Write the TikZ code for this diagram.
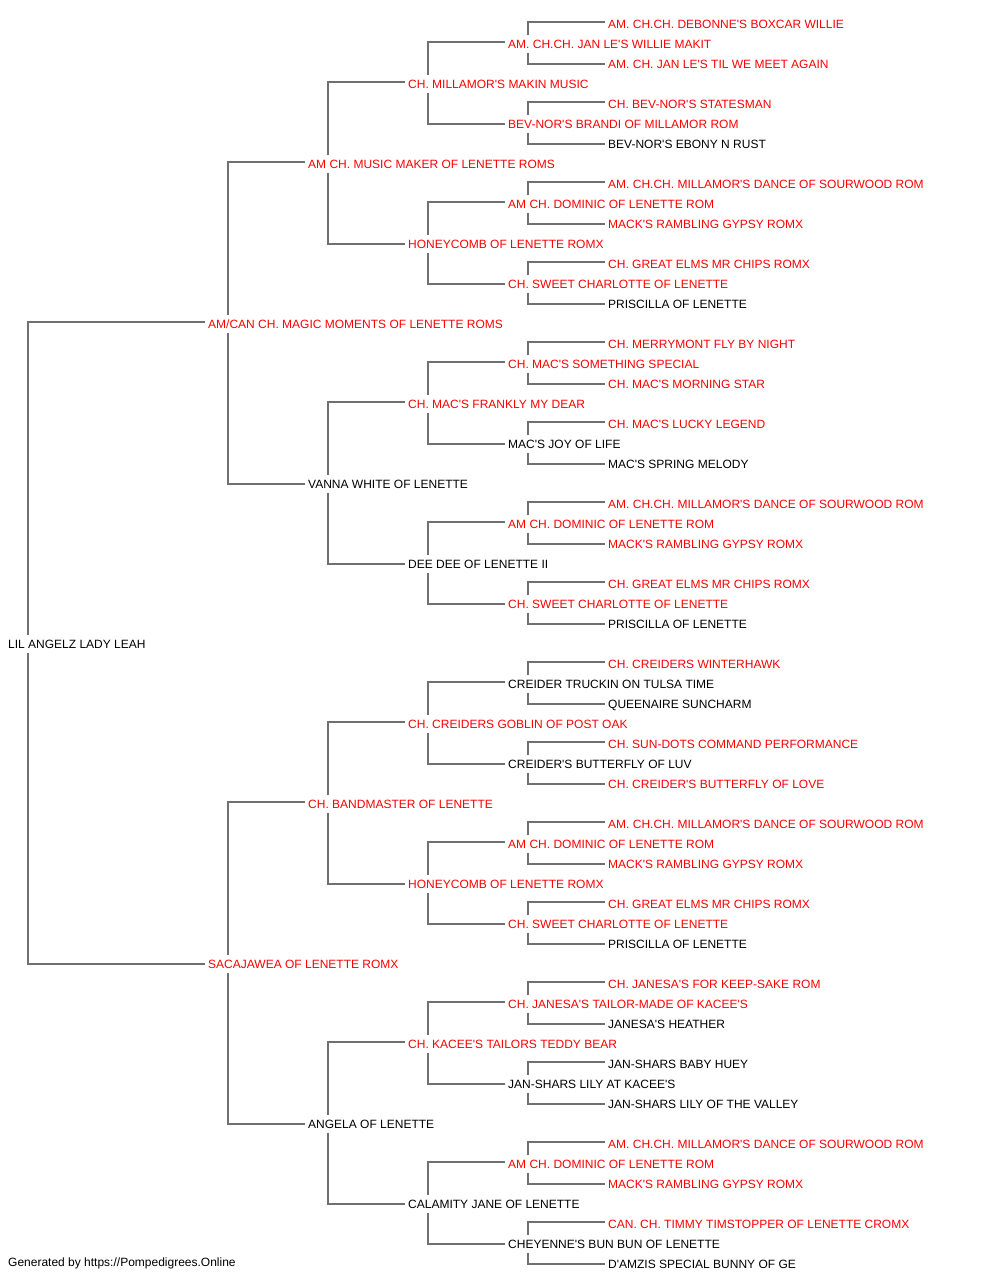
\documentclass[tikz,border=0pt]{standalone}
\usepackage{fontspec}
\setmainfont{Liberation Sans}[Ligatures=TeXOff]
\pgfdeclarelayer{bg}
\pgfsetlayers{bg,main}
\definecolor{linegray}{HTML}{707070}
\definecolor{pedred}{HTML}{FF0000}
\tikzset{
  nm/.style={anchor=west, fill=white, inner xsep=3pt, inner ysep=3pt,
    text height=10.5pt, text depth=1.9pt, font=\fontsize{12}{14}\selectfont},
  rd/.style={nm, text=pedred},
  bk/.style={nm, text=black},
  conn/.style={draw=linegray, line width=1.5pt}
}
\newcommand\pedlink[3]{\draw[conn] ([yshift=2pt]#2.west) -| ([xshift=23pt]#1.west) |- (#3.west);}
\begin{document}
\begin{tikzpicture}[x=1pt,y=-1pt]
\useasboundingbox (0,0) rectangle (1000,1280);
% generation 0
\node[bk] (r) at (5,644) {LIL ANGELZ LADY LEAH};
% generation 1
\node[rd] (s) at (205,324) {AM/CAN CH. MAGIC MOMENTS OF LENETTE ROMS};
\node[rd] (d) at (205,964) {SACAJAWEA OF LENETTE ROMX};
% generation 2
\node[rd] (ss) at (305,164) {AM CH. MUSIC MAKER OF LENETTE ROMS};
\node[bk] (sd) at (305,484) {VANNA WHITE OF LENETTE};
\node[rd] (ds) at (305,804) {CH. BANDMASTER OF LENETTE};
\node[bk] (dd) at (305,1124) {ANGELA OF LENETTE};
% generation 3
\node[rd] (sss) at (405,84) {CH. MILLAMOR'S MAKIN MUSIC};
\node[rd] (ssd) at (405,244) {HONEYCOMB OF LENETTE ROMX};
\node[rd] (sds) at (405,404) {CH. MAC'S FRANKLY MY DEAR};
\node[bk] (sdd) at (405,564) {DEE DEE OF LENETTE II};
\node[rd] (dss) at (405,724) {CH. CREIDERS GOBLIN OF POST OAK};
\node[rd] (dsd) at (405,884) {HONEYCOMB OF LENETTE ROMX};
\node[rd] (dds) at (405,1044) {CH. KACEE'S TAILORS TEDDY BEAR};
\node[bk] (ddd) at (405,1204) {CALAMITY JANE OF LENETTE};
% generation 4
\node[rd] (ssss) at (505,44) {AM. CH.CH. JAN LE'S WILLIE MAKIT};
\node[rd] (sssd) at (505,124) {BEV-NOR'S BRANDI OF MILLAMOR ROM};
\node[rd] (ssds) at (505,204) {AM CH. DOMINIC OF LENETTE ROM};
\node[rd] (ssdd) at (505,284) {CH. SWEET CHARLOTTE OF LENETTE};
\node[rd] (sdss) at (505,364) {CH. MAC'S SOMETHING SPECIAL};
\node[bk] (sdsd) at (505,444) {MAC'S JOY OF LIFE};
\node[rd] (sdds) at (505,524) {AM CH. DOMINIC OF LENETTE ROM};
\node[rd] (sddd) at (505,604) {CH. SWEET CHARLOTTE OF LENETTE};
\node[bk] (dsss) at (505,684) {CREIDER TRUCKIN ON TULSA TIME};
\node[bk] (dssd) at (505,764) {CREIDER'S BUTTERFLY OF LUV};
\node[rd] (dsds) at (505,844) {AM CH. DOMINIC OF LENETTE ROM};
\node[rd] (dsdd) at (505,924) {CH. SWEET CHARLOTTE OF LENETTE};
\node[rd] (ddss) at (505,1004) {CH. JANESA'S TAILOR-MADE OF KACEE'S};
\node[bk] (ddsd) at (505,1084) {JAN-SHARS LILY AT KACEE'S};
\node[rd] (ddds) at (505,1164) {AM CH. DOMINIC OF LENETTE ROM};
\node[bk] (dddd) at (505,1244) {CHEYENNE'S BUN BUN OF LENETTE};
% generation 5
\node[rd] (sssss) at (605,24) {AM. CH.CH. DEBONNE'S BOXCAR WILLIE};
\node[rd] (ssssd) at (605,64) {AM. CH. JAN LE'S TIL WE MEET AGAIN};
\node[rd] (sssds) at (605,104) {CH. BEV-NOR'S STATESMAN};
\node[bk] (sssdd) at (605,144) {BEV-NOR'S EBONY N RUST};
\node[rd] (ssdss) at (605,184) {AM. CH.CH. MILLAMOR'S DANCE OF SOURWOOD ROM};
\node[rd] (ssdsd) at (605,224) {MACK'S RAMBLING GYPSY ROMX};
\node[rd] (ssdds) at (605,264) {CH. GREAT ELMS MR CHIPS ROMX};
\node[bk] (ssddd) at (605,304) {PRISCILLA OF LENETTE};
\node[rd] (sdsss) at (605,344) {CH. MERRYMONT FLY BY NIGHT};
\node[rd] (sdssd) at (605,384) {CH. MAC'S MORNING STAR};
\node[rd] (sdsds) at (605,424) {CH. MAC'S LUCKY LEGEND};
\node[bk] (sdsdd) at (605,464) {MAC'S SPRING MELODY};
\node[rd] (sddss) at (605,504) {AM. CH.CH. MILLAMOR'S DANCE OF SOURWOOD ROM};
\node[rd] (sddsd) at (605,544) {MACK'S RAMBLING GYPSY ROMX};
\node[rd] (sddds) at (605,584) {CH. GREAT ELMS MR CHIPS ROMX};
\node[bk] (sdddd) at (605,624) {PRISCILLA OF LENETTE};
\node[rd] (dssss) at (605,664) {CH. CREIDERS WINTERHAWK};
\node[bk] (dsssd) at (605,704) {QUEENAIRE SUNCHARM};
\node[rd] (dssds) at (605,744) {CH. SUN-DOTS COMMAND PERFORMANCE};
\node[rd] (dssdd) at (605,784) {CH. CREIDER'S BUTTERFLY OF LOVE};
\node[rd] (dsdss) at (605,824) {AM. CH.CH. MILLAMOR'S DANCE OF SOURWOOD ROM};
\node[rd] (dsdsd) at (605,864) {MACK'S RAMBLING GYPSY ROMX};
\node[rd] (dsdds) at (605,904) {CH. GREAT ELMS MR CHIPS ROMX};
\node[bk] (dsddd) at (605,944) {PRISCILLA OF LENETTE};
\node[rd] (ddsss) at (605,984) {CH. JANESA'S FOR KEEP-SAKE ROM};
\node[bk] (ddssd) at (605,1024) {JANESA'S HEATHER};
\node[bk] (ddsds) at (605,1064) {JAN-SHARS BABY HUEY};
\node[bk] (ddsdd) at (605,1104) {JAN-SHARS LILY OF THE VALLEY};
\node[rd] (dddss) at (605,1144) {AM. CH.CH. MILLAMOR'S DANCE OF SOURWOOD ROM};
\node[rd] (dddsd) at (605,1184) {MACK'S RAMBLING GYPSY ROMX};
\node[rd] (dddds) at (605,1224) {CAN. CH. TIMMY TIMSTOPPER OF LENETTE CROMX};
\node[bk] (ddddd) at (605,1264) {D'AMZIS SPECIAL BUNNY OF GE};
% footer
\node[bk, fill=none, text depth=3pt] (foot) at (5,1263) {Generated by https://Pompedigrees.Online};
\begin{pgfonlayer}{bg}
\fill[white] (0,0) rectangle (1000,1280);
\pedlink{r}{s}{d}
\pedlink{s}{ss}{sd}
\pedlink{d}{ds}{dd}
\pedlink{ss}{sss}{ssd}
\pedlink{sd}{sds}{sdd}
\pedlink{ds}{dss}{dsd}
\pedlink{dd}{dds}{ddd}
\pedlink{sss}{ssss}{sssd}
\pedlink{ssd}{ssds}{ssdd}
\pedlink{sds}{sdss}{sdsd}
\pedlink{sdd}{sdds}{sddd}
\pedlink{dss}{dsss}{dssd}
\pedlink{dsd}{dsds}{dsdd}
\pedlink{dds}{ddss}{ddsd}
\pedlink{ddd}{ddds}{dddd}
\pedlink{ssss}{sssss}{ssssd}
\pedlink{sssd}{sssds}{sssdd}
\pedlink{ssds}{ssdss}{ssdsd}
\pedlink{ssdd}{ssdds}{ssddd}
\pedlink{sdss}{sdsss}{sdssd}
\pedlink{sdsd}{sdsds}{sdsdd}
\pedlink{sdds}{sddss}{sddsd}
\pedlink{sddd}{sddds}{sdddd}
\pedlink{dsss}{dssss}{dsssd}
\pedlink{dssd}{dssds}{dssdd}
\pedlink{dsds}{dsdss}{dsdsd}
\pedlink{dsdd}{dsdds}{dsddd}
\pedlink{ddss}{ddsss}{ddssd}
\pedlink{ddsd}{ddsds}{ddsdd}
\pedlink{ddds}{dddss}{dddsd}
\pedlink{dddd}{dddds}{ddddd}
\end{pgfonlayer}
\end{tikzpicture}
\end{document}
